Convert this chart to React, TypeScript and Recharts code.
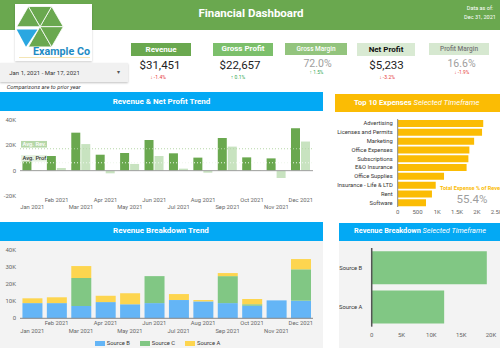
import React from 'react';
import { BarChart, Bar, XAxis, YAxis, ReferenceLine, Legend } from 'recharts';

const FONT = 'Roboto, "Noto Sans", sans-serif';

// Revenue & Net Profit Trend
const months = ['Jan 2021', 'Feb 2021', 'Mar 2021', 'Apr 2021', 'May 2021', 'Jun 2021', 'Jul 2021', 'Aug 2021', 'Sep 2021', 'Oct 2021', 'Nov 2021', 'Dec 2021'];
const revenue = [11700, 11600, 30000, 12600, 14000, 24200, 13700, 10300, 25800, 10500, 9700, 33500];
const netProfit = [400, 2100, 21000, -2100, 5300, 11600, 1600, -1600, 19000, 300, -5800, 23000];
const trendTicks = [-20000, 0, 20000, 40000];

// Top 10 expenses
const expenseCats = ['Advertising', 'Licenses and Permits', 'Marketing', 'Office Expenses', 'Subscriptions', 'E&O Insurance', 'Office Supplies', 'Insurance - Life & LTD', 'Rent', 'Software'];
const expenseVals = [2160, 2130, 1930, 1810, 1785, 1740, 1170, 960, 865, 715];
const expenseTicks = [0, 500, 1000, 1500, 2000, 2500];

// Revenue breakdown trend
const sourceB = [8900, 8900, 7200, 9500, 8200, 8900, 10700, 9900, 8900, 7400, 10500, 10300];
const sourceC = [0, 0, 16400, 0, 0, 15800, 0, 0, 15800, 800, 0, 18400];
const sourceA = [2800, 3400, 7000, 3700, 6400, 0, 3500, 800, 1800, 3100, 0, 6000];
const breakdownTicks = [0, 10000, 20000, 30000, 40000];

// Revenue breakdown selected timeframe
const sourceNames = ['Source B', 'Source A'];
const sourceTotals = [19300, 12150];
const sourceTicks = [0, 5000, 10000, 15000, 20000];

const trendData = months.map((m, i) => ({ month: m, revenue: revenue[i], profit: netProfit[i] }));
const expData = expenseCats.map((n, i) => ({ name: n, value: expenseVals[i] }));
const bdData = months.map((m, i) => ({ month: m, b: sourceB[i], c: sourceC[i], a: sourceA[i] }));
const srcData = sourceNames.map((n, i) => ({ name: n, value: sourceTotals[i] }));
const avgRev = revenue.reduce((s, v) => s + v, 0) / revenue.length;
const avgProf = netProfit.reduce((s, v) => s + v, 0) / netProfit.length;

const kfmt = (v: number) => (v === 0 ? '0' : `${v / 1000}K`);
const kfmt2 = (v: number) => (v < 1000 ? String(v) : `${v / 1000}K`);

type TP = { x: number; y: number; size: number; color?: string; weight?: number; anchor?: 'start' | 'middle' | 'end'; italic?: boolean; children: React.ReactNode };
function T({ x, y, size, color = '#333', weight = 400, anchor = 'middle', italic = false, children }: TP) {
  const tx = anchor === 'middle' ? '-50%' : anchor === 'end' ? '-100%' : '0';
  return (
    <div style={{ position: 'absolute', left: x, top: y, transform: `translate(${tx},-50%)`, fontSize: size, color, fontWeight: weight, fontStyle: italic ? 'italic' : 'normal', whiteSpace: 'nowrap', lineHeight: 1, fontFamily: FONT }}>
      {children}
    </div>
  );
}
function Box({ x, y, w, h, bg, style }: { x: number; y: number; w: number; h: number; bg: string; style?: React.CSSProperties }) {
  return <div style={{ position: 'absolute', left: x, top: y, width: w, height: h, background: bg, ...style }} />;
}

const makeAltTick = (d1: number, d2: number) => (props: any) => {
  const { x, y, payload, index } = props;
  return (
    <text x={x} y={y + (index % 2 === 0 ? d2 : d1)} textAnchor="middle" dominantBaseline="central" fontSize={5.8} fill="#666" fontFamily={FONT}>
      {payload.value}
    </text>
  );
};
const altTick1 = makeAltTick(4, 11.3);
const altTick3 = makeAltTick(5, 12.4);

const catTick = (props: any) => {
  const { x, y, payload } = props;
  return (
    <text x={x} y={y} textAnchor="end" dominantBaseline="central" fontSize={5.8} fill="#333" fontFamily={FONT}>
      {payload.value}
    </text>
  );
};

const avgLabel = (text: string, bg: string, color: string) => (props: any) => {
  const vb = props.viewBox || {};
  const x = (vb.x || 0) + 1;
  const y = vb.y || 0;
  return (
    <g>
      <rect x={x} y={y - 7.8} width={26} height={6.6} fill={bg} />
      <text x={x + 1.5} y={y - 4.4} dominantBaseline="central" fontSize={5.8} fontWeight={500} fill={color} fontFamily={FONT}>{text}</text>
    </g>
  );
};

const legendItems = [
  { name: 'Source B', color: '#64b5f6' },
  { name: 'Source C', color: '#81c784' },
  { name: 'Source A', color: '#fdd54f' },
];
const renderLegend = () => (
  <div style={{ display: 'flex', justifyContent: 'center', alignItems: 'center', height: 10, paddingLeft: 12, fontFamily: FONT, fontSize: 5.8, color: '#333' }}>
    {legendItems.map((it) => (
      <div key={it.name} style={{ display: 'flex', alignItems: 'center', marginRight: 10 }}>
        <div style={{ width: 10, height: 5, background: it.color, marginRight: 2 }} />
        <span>{it.name}</span>
      </div>
    ))}
  </div>
);

const tickStyle = { fontSize: 6, fill: '#666', fontFamily: FONT };

export default function App() {
  return (
    <div style={{ position: 'absolute', left: 0, top: 0, width: 500, height: 350, overflow: 'hidden', background: '#fff', fontFamily: FONT }}>
      {/* header */}
      <Box x={0} y={0} w={500} h={29.5} bg="#6aa84f" />
      <T x={251} y={14} size={11.5} weight={700} color="#fff">Financial Dashboard</T>
      <T x={480} y={9} size={5.5} color="#fff">Data as of:</T>
      <T x={480} y={18} size={5.5} color="#fff">Dec 31, 2021</T>

      {/* logo */}
      <Box x={15} y={4} w={77} h={57} bg="#fff" style={{ boxShadow: '0 1px 2px rgba(0,0,0,0.2)' }} />
      <svg style={{ position: 'absolute', left: 0, top: 0 }} width={100} height={65}>
        {[
          [[63.3, 26.7], [51.65, 6.5]],
          [[51.65, 6.5], [28.35, 6.5]],
          [[28.35, 6.5], [16.7, 26.7]],
          [[28.35, 46.9], [51.65, 46.9]],
          [[51.65, 46.9], [63.3, 26.7]],
        ].map((p, i) => (
          <polygon key={i} points={`40,26.7 ${p[0][0]},${p[0][1]} ${p[1][0]},${p[1][1]}`} fill="#6aa84f" stroke="#fff" strokeWidth={0.8} />
        ))}
        <polygon points="16.7,29.5 37.5,29.5 26,46.7" fill="#2aa7e1" />
        <text x={33} y={55} fontSize={10.8} fontWeight={700} fill="#1e8bc3" fontFamily={FONT} textLength={57} lengthAdjust="spacingAndGlyphs">Example Co</text>
        <rect x={19} y={57} width={71} height={1} fill="#f4e5b5" />
      </svg>

      {/* date picker */}
      <Box x={0} y={63.3} w={128} h={18.4} bg="#f1f1f1" style={{ boxShadow: '0 1px 2px rgba(0,0,0,0.25)' }} />
      <T x={9.3} y={72.5} size={6} anchor="start" color="#333">Jan 1, 2021 - Mar 17, 2021</T>
      <T x={118} y={72} size={6} color="#555">▾</T>
      <T x={6.7} y={88.3} size={5.8} anchor="start" italic color="#333">Comparisons are to prior year</T>

      {/* KPI cards */}
      <Box x={131} y={43} w={60} h={13} bg="#6aa84f" />
      <T x={161} y={49.5} size={8} weight={700} color="#fff">Revenue</T>
      <T x={160} y={66} size={11.5} color="#222">$31,451</T>
      <T x={158} y={76.7} size={5} color="#e53935">↓ -1.4%</T>

      <Box x={213} y={43} w={60} h={12.7} bg="#7cbf6b" />
      <T x={243} y={49.3} size={8} weight={700} color="#fff">Gross Profit</T>
      <T x={240} y={66} size={11.5} color="#222">$22,657</T>
      <T x={238} y={77} size={5} color="#34a853">↑ 0.1%</T>

      <Box x={285} y={43} w={62} h={12} bg="#93c47d" />
      <T x={316} y={49} size={6.5} weight={500} color="#fff">Gross Margin</T>
      <T x={317.5} y={64} size={10.5} color="#9e9e9e">72.0%</T>
      <T x={316.5} y={72.7} size={4.8} color="#34a853">↑ 1.5%</T>

      <Box x={357} y={43.3} w={58} h={12.7} bg="#d9ead3" />
      <T x={386} y={49.7} size={8} weight={700} color="#111">Net Profit</T>
      <T x={386.5} y={65.5} size={11.5} color="#222">$5,233</T>
      <T x={387} y={76.7} size={5} color="#e53935">↓ -3.2%</T>

      <Box x={429} y={43.3} w={60} h={12} bg="#d6e8d0" />
      <T x={459} y={49.3} size={6.5} weight={500} color="#777">Profit Margin</T>
      <T x={461.5} y={63.7} size={10.5} color="#9e9e9e">16.6%</T>
      <T x={461.7} y={72.7} size={4.8} color="#e53935">↓ -1.9%</T>

      {/* section headers */}
      <Box x={0} y={92} w={323} h={19} bg="#03a9f4" />
      <T x={161.5} y={101.5} size={8} weight={700} color="#fff">Revenue &amp; Net Profit Trend</T>
      <Box x={335} y={94} w={165} h={18} bg="#fbbc04" />
      <T x={416.7} y={103} size={7.6} color="#fff"><b>Top 10 Expenses</b> <i>Selected Timeframe</i></T>
      <Box x={0} y={222} w={323} h={18.5} bg="#03a9f4" />
      <T x={161} y={231} size={8} weight={700} color="#fff">Revenue Breakdown Trend</T>
      <Box x={339} y={223} w={161} h={18} bg="#03a9f4" />
      <T x={420} y={231} size={7.3} color="#fff"><b>Revenue Breakdown</b> <i>Selected Timeframe</i></T>

      <Box x={0} y={240.5} w={323} h={107.5} bg="#f3f3f3" />
      <Box x={339} y={241} w={161} h={107} bg="#f3f3f3" />

      {/* Revenue & Net Profit Trend */}
      <div style={{ position: 'absolute', left: 0, top: 112 }}>
        <BarChart width={323} height={103} data={trendData} margin={{ top: 8, right: 10, left: 0, bottom: 0 }} barCategoryGap="10%" barGap={1}>
          <XAxis dataKey="month" axisLine={false} tickLine={false} tickSize={0} tickMargin={0} height={19} interval={0} tick={altTick1} />
          <YAxis domain={[-20000, 40000]} ticks={trendTicks} axisLine={false} tickLine={false} tickSize={0} tickMargin={4} width={20} tickFormatter={kfmt} tick={tickStyle} />
          <Bar dataKey="revenue" fill="#6aa84f" isAnimationActive={false} />
          <Bar dataKey="profit" fill="#c8e3c0" isAnimationActive={false} />
          <ReferenceLine y={0} stroke="#9e9e9e" />
          <ReferenceLine y={avgRev} stroke="#b6d7a8" strokeDasharray="1 2" label={avgLabel('Avg. Rev.', '#b6d7a8', '#fff')} />
          <ReferenceLine y={avgProf} stroke="#eef6eb" strokeDasharray="1 2" label={avgLabel('Avg. Prof.', '#e6f2e2', '#333')} />
        </BarChart>
      </div>

      {/* Top 10 Expenses */}
      <div style={{ position: 'absolute', left: 330, top: 112 }}>
        <BarChart layout="vertical" width={175} height={107} data={expData} margin={{ top: 7, right: 8.3, left: 0, bottom: 0 }} barCategoryGap="12%">
          <XAxis type="number" domain={[0, 2500]} ticks={expenseTicks} axisLine={false} tickLine={false} tickSize={0} tickMargin={3} height={12} interval={0} tickFormatter={kfmt2} tick={tickStyle} />
          <YAxis type="category" dataKey="name" width={67.7} axisLine={{ stroke: '#888' }} tickLine={false} tickSize={0} tickMargin={5} interval={0} tick={catTick} />
          <Bar dataKey="value" fill="#fbbc04" isAnimationActive={false} />
        </BarChart>
      </div>
      <T x={440} y={189} size={5.5} weight={700} anchor="start" color="#fbbc04">Total Expense % of Revenue</T>
      <T x={472} y={200} size={11.5} color="#9e9e9e">55.4%</T>

      {/* Revenue Breakdown Trend */}
      <div style={{ position: 'absolute', left: 0, top: 240 }}>
        <BarChart width={323} height={108} data={bdData} margin={{ top: 10, right: 10, left: 0, bottom: 0 }} barCategoryGap="10%">
          <XAxis dataKey="month" axisLine={{ stroke: '#888' }} tickLine={false} tickSize={0} tickMargin={0} height={19.7} interval={0} tick={altTick3} />
          <YAxis domain={[0, 40000]} ticks={breakdownTicks} axisLine={false} tickLine={false} tickSize={0} tickMargin={4} width={20} tickFormatter={kfmt} tick={tickStyle} />
          <Bar dataKey="b" name="Source B" stackId="s" fill="#64b5f6" isAnimationActive={false} />
          <Bar dataKey="c" name="Source C" stackId="s" fill="#81c784" isAnimationActive={false} />
          <Bar dataKey="a" name="Source A" stackId="s" fill="#fdd54f" isAnimationActive={false} />
          <Legend height={10} content={renderLegend} />
        </BarChart>
      </div>

      {/* Revenue Breakdown Selected Timeframe */}
      <div style={{ position: 'absolute', left: 339, top: 241 }}>
        <BarChart layout="vertical" width={161} height={97.7} data={srcData} margin={{ top: 7, right: 9, left: 0, bottom: 0 }} barCategoryGap="8%">
          <XAxis type="number" domain={[0, 20000]} ticks={sourceTicks} axisLine={false} tickLine={false} tickSize={0} tickMargin={6} height={12} interval={0} tickFormatter={kfmt} tick={tickStyle} />
          <YAxis type="category" dataKey="name" width={32.7} axisLine={{ stroke: '#555', strokeWidth: 1.5 }} tickLine={false} tickSize={0} tickMargin={9.5} interval={0} tick={catTick} />
          <Bar dataKey="value" fill="#81c784" isAnimationActive={false} />
        </BarChart>
      </div>
    </div>
  );
}
